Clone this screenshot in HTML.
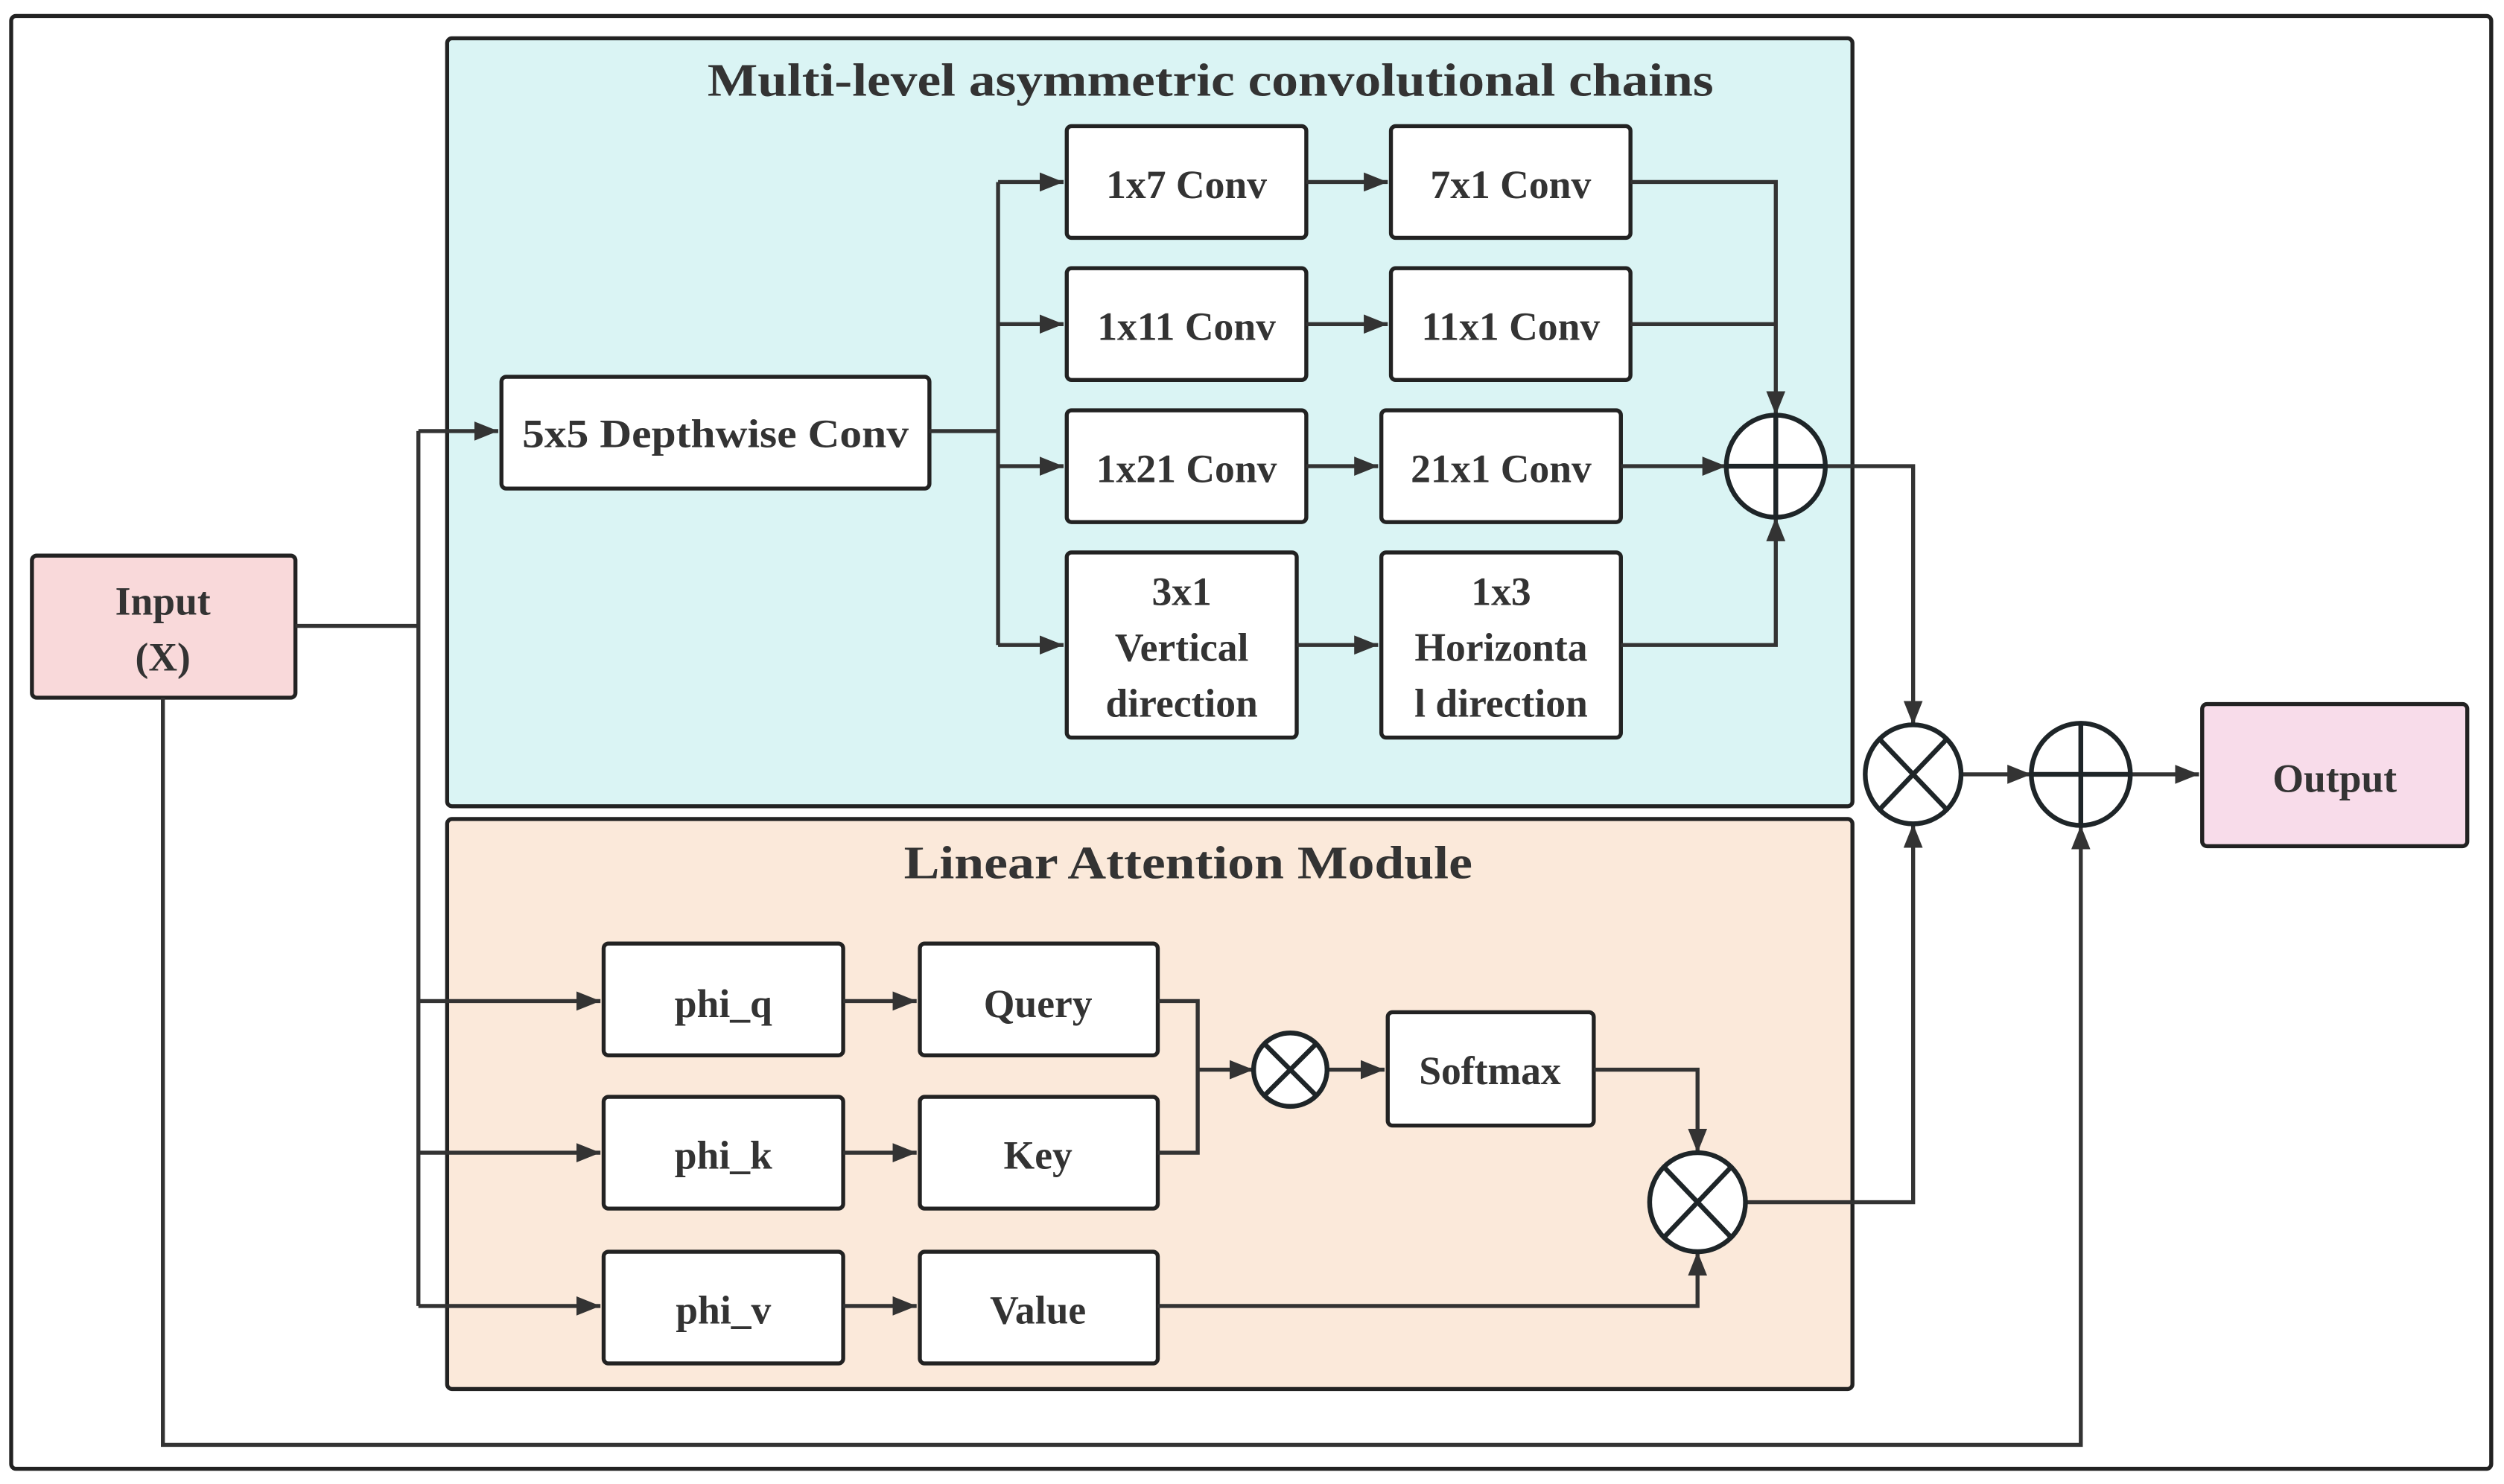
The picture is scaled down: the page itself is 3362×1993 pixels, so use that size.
<!DOCTYPE html>
<html><head><meta charset="utf-8"><style>html,body{margin:0;padding:0;background:#fff}svg{display:block}svg text{font-family:"Liberation Serif","Times New Roman",serif;font-weight:bold}</style></head>
<body>
<svg width="3362" height="1993" viewBox="0 0 1568 929.5" xmlns="http://www.w3.org/2000/svg" fill="#333">
<defs><marker id="b" viewBox="0 0 10 10" refX="10" refY="5" markerWidth="15" markerHeight="15" orient="auto" markerUnits="userSpaceOnUse"><path d="M0,1L10,5L0,9z" fill="#333"/></marker></defs>
<rect x="7" y="10" width="1553" height="910" rx="3" fill="#fff" stroke="#222" stroke-width="2.5"/>
<rect x="280" y="24" width="880" height="481" rx="3" fill="#daf4f4" stroke="#222" stroke-width="2.5"/>
<rect x="280" y="513" width="880" height="357" rx="3" fill="#fbe9da" stroke="#222" stroke-width="2.5"/>
<g font-size="29" text-anchor="middle"><text x="758" y="60" textLength="630" lengthAdjust="spacingAndGlyphs">Multi-level asymmetric convolutional chains</text><text x="744" y="550" textLength="356" lengthAdjust="spacingAndGlyphs">Linear Attention Module</text></g>
<g stroke="#222" stroke-width="2.5">
<rect x="20" y="348" width="165" height="89" rx="3" fill="#f9d9da"/>
<rect x="1379" y="441" width="166" height="89" rx="3" fill="#f8dcea"/>
<rect x="314" y="236" width="268" height="70" rx="3" fill="#fff"/>
<rect x="668" y="79" width="150" height="70" rx="3" fill="#fff"/>
<rect x="668" y="168" width="150" height="70" rx="3" fill="#fff"/>
<rect x="668" y="257" width="150" height="70" rx="3" fill="#fff"/>
<rect x="668" y="346" width="144" height="116" rx="3" fill="#fff"/>
<rect x="871" y="79" width="150" height="70" rx="3" fill="#fff"/>
<rect x="871" y="168" width="150" height="70" rx="3" fill="#fff"/>
<rect x="865" y="257" width="150" height="70" rx="3" fill="#fff"/>
<rect x="865" y="346" width="150" height="116" rx="3" fill="#fff"/>
<rect x="378" y="591" width="150" height="70" rx="3" fill="#fff"/>
<rect x="378" y="687" width="150" height="70" rx="3" fill="#fff"/>
<rect x="378" y="784" width="150" height="70" rx="3" fill="#fff"/>
<rect x="576" y="591" width="149" height="70" rx="3" fill="#fff"/>
<rect x="576" y="687" width="149" height="70" rx="3" fill="#fff"/>
<rect x="576" y="784" width="149" height="70" rx="3" fill="#fff"/>
<rect x="869" y="634" width="129" height="71" rx="3" fill="#fff"/>
</g>
<g fill="none" stroke="#333" stroke-width="2.5">
<path d="M185,392H262" /><path d="M262,270V818"/>
<path d="M262,270H312" marker-end="url(#b)"/>
<path d="M262,627H376" marker-end="url(#b)"/><path d="M262,722H376" marker-end="url(#b)"/><path d="M262,818H376" marker-end="url(#b)"/>
<path d="M582,270H625"/><path d="M625,114V404"/>
<path d="M625,114H666" marker-end="url(#b)"/><path d="M625,203H666" marker-end="url(#b)"/><path d="M625,292H666" marker-end="url(#b)"/><path d="M625,404H666" marker-end="url(#b)"/>
<path d="M818,114H869" marker-end="url(#b)"/><path d="M818,203H869" marker-end="url(#b)"/><path d="M818,292H863" marker-end="url(#b)"/><path d="M812,404H863" marker-end="url(#b)"/>
<path d="M1021,114H1112V260" marker-end="url(#b)"/><path d="M1021,203H1112"/>
<path d="M1015,292H1081" marker-end="url(#b)"/>
<path d="M1015,404H1112V324" marker-end="url(#b)"/>
<path d="M1143,292H1198V454" marker-end="url(#b)"/>
<path d="M1228,485H1272" marker-end="url(#b)"/>
<path d="M1334,485H1377" marker-end="url(#b)"/>
<path d="M528,627H574" marker-end="url(#b)"/><path d="M528,722H574" marker-end="url(#b)"/><path d="M528,818H574" marker-end="url(#b)"/>
<path d="M725,627H750V722H725"/><path d="M750,670H785" marker-end="url(#b)"/>
<path d="M831,670H867" marker-end="url(#b)"/>
<path d="M998,670H1063V722" marker-end="url(#b)"/>
<path d="M725,818H1063V784" marker-end="url(#b)"/>
<path d="M1093,753H1198V516" marker-end="url(#b)"/>
<path d="M102,437V905H1303V517" marker-end="url(#b)"/>
</g>
<g fill="#fff" stroke="#1e2528" stroke-width="3">
<ellipse cx="1112" cy="292" rx="31" ry="32"/><path d="M1081,292H1143M1112,260V324" fill="none"/>
<ellipse cx="1303" cy="485" rx="31" ry="32"/><path d="M1272,485H1334M1303,453V517" fill="none"/>
<ellipse cx="1198" cy="485" rx="30" ry="31"/><path d="M1177,463L1219,507M1219,463L1177,507" fill="none"/>
<ellipse cx="1063" cy="753" rx="30" ry="31"/><path d="M1042,731L1084,775M1084,731L1042,775" fill="none"/>
<ellipse cx="808" cy="670" rx="23" ry="23"/><path d="M792,654L824,686M824,654L792,686" fill="none"/>
</g>
<g font-size="25" text-anchor="middle">
<text x="102" y="385">Input</text><text x="102" y="420">(X)</text>
<text x="1462" y="496">Output</text>
<text x="448" y="280" textLength="242" lengthAdjust="spacingAndGlyphs">5x5 Depthwise Conv</text>
<text x="743" y="124">1x7 Conv</text><text x="946" y="124">7x1 Conv</text>
<text x="743" y="213">1x11 Conv</text><text x="946" y="213">11x1 Conv</text>
<text x="743" y="302">1x21 Conv</text><text x="940" y="302">21x1 Conv</text>
<text x="740" y="379">3x1</text><text x="740" y="414">Vertical</text><text x="740" y="449">direction</text>
<text x="940" y="379">1x3</text><text x="940" y="414">Horizonta</text><text x="940" y="449">l direction</text>
<text x="453" y="637">phi_q</text><text x="453" y="732">phi_k</text><text x="453" y="829">phi_v</text>
<text x="650" y="637">Query</text><text x="650" y="732">Key</text><text x="650" y="829">Value</text>
<text x="933" y="679">Softmax</text>
</g>
</svg>
</body></html>
